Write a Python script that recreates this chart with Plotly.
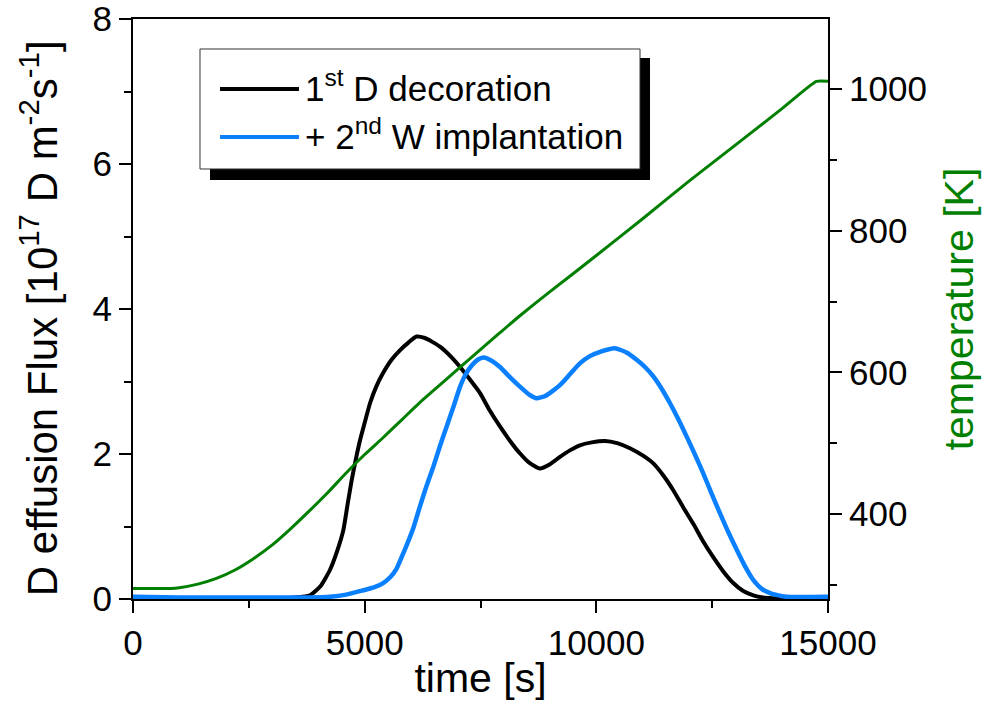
import plotly.graph_objects as go

# Thermal desorption data: time [s] and D effusion flux [1e17 D m^-2 s^-1]
t_first = [0, 1000, 2000, 3000, 3500, 3820, 4050, 4250, 4400, 4540, 4630, 4720, 4810, 4900,
           5000, 5115, 5250, 5400, 5580, 5760, 5950, 6120, 6300, 6450, 6625, 6850, 7060, 7280,
           7490, 7700, 7920, 8150, 8350, 8550, 8780, 9000, 9215, 9430, 9645, 9900, 10186, 10450,
           10725, 11000, 11230, 11450, 11660, 11870, 12090, 12300, 12520, 12740, 12955, 13170,
           13390, 13600, 13810, 14200, 15000]
flux_first = [0.02, 0.01, 0.01, 0.01, 0.02, 0.05, 0.18, 0.40, 0.65, 0.95, 1.30, 1.64, 1.93, 2.19,
              2.43, 2.70, 2.93, 3.12, 3.30, 3.43, 3.54, 3.62, 3.60, 3.55, 3.48, 3.35, 3.20, 3.02,
              2.84, 2.60, 2.38, 2.17, 2.01, 1.88, 1.80, 1.86, 1.96, 2.05, 2.12, 2.16, 2.18, 2.15,
              2.08, 1.98, 1.87, 1.70, 1.50, 1.27, 1.04, 0.80, 0.58, 0.38, 0.22, 0.11,
              0.05, 0.02, 0.01, 0.00, 0.00]

t_second = [0, 1000, 2000, 3000, 3800, 4250, 4600, 4970, 5200, 5400, 5550, 5690, 5800, 5905,
            6050, 6190, 6330, 6480, 6620, 6770, 6920, 7060, 7180, 7310, 7440, 7560, 7700, 7920,
            8150, 8350, 8550, 8710, 8900, 9215, 9430, 9645, 9860, 10080, 10400, 10650, 10870,
            11050, 11230, 11410, 11590, 11770, 11950, 12130, 12310, 12490, 12670, 12850, 13030,
            13210, 13390, 13570, 13750, 13930, 14110, 15000]
flux_second = [0.03, 0.02, 0.02, 0.02, 0.02, 0.03, 0.06, 0.12, 0.16, 0.22, 0.30, 0.42, 0.58, 0.74,
               0.98, 1.27, 1.55, 1.82, 2.10, 2.38, 2.66, 2.93, 3.10, 3.22, 3.30, 3.33, 3.30, 3.20,
               3.05, 2.93, 2.82, 2.77, 2.80, 2.95, 3.10, 3.25, 3.35, 3.41, 3.46, 3.40, 3.30,
               3.20, 3.07, 2.90, 2.70, 2.48, 2.24, 1.99, 1.73, 1.45, 1.18, 0.92, 0.68,
               0.45, 0.26, 0.14, 0.08, 0.05, 0.03, 0.03]

# Sample temperature [K]
t_temp = [0, 400, 800, 1000, 1400, 1800, 2200, 2600, 3000, 3400, 3800, 4200, 4600, 5000,
          5400, 5800, 6200, 6600, 7000, 7920, 8350, 9000, 10000, 11000, 12000, 13000, 14000,
          14750, 15000]
temp = [295, 295, 295, 296, 301, 309, 321, 337, 356, 379, 404, 430, 458, 484,
        508, 533, 558, 581, 604, 656, 680, 714, 765, 817, 870, 921, 972,
        1011, 1011]

legend_labels = ["1<sup>st</sup> D decoration", "+ 2<sup>nd</sup> W implantation"]
x_ticks = [0, 5000, 10000, 15000]
x_ticktext = ["0", "5000", "10000", "15000"]
y_ticks = [0, 2, 4, 6, 8]
temp_ticks = [400, 600, 800, 1000]

BLACK = "#000000"
BLUE = "#0A80FF"
GREEN = "#007F00"
FONT = "Liberation Sans, Arial, sans-serif"

fig = go.Figure()
fig.add_trace(go.Scatter(x=t_temp, y=temp, mode="lines", yaxis="y2",
                         line=dict(color=GREEN, width=3, shape="spline", smoothing=0.5),
                         showlegend=False))
fig.add_trace(go.Scatter(x=t_first, y=flux_first, mode="lines",
                         line=dict(color=BLACK, width=4, shape="spline", smoothing=0.5),
                         showlegend=False))
fig.add_trace(go.Scatter(x=t_second, y=flux_second, mode="lines",
                         line=dict(color=BLUE, width=4.5, shape="spline", smoothing=0.5),
                         showlegend=False))

axis_common = dict(
    showgrid=False, zeroline=False, showline=True, linecolor="black", linewidth=2,
    ticks="outside", ticklen=12, tickwidth=2, tickcolor="black", automargin=False,
    ticklabeloverflow="allow",
    tickfont=dict(family=FONT, size=35, color="black"),
)

fig.update_layout(
    width=986, height=724,
    margin=dict(l=133, r=158, t=19, b=125),
    paper_bgcolor="white", plot_bgcolor="white",
    font=dict(family=FONT, color="black"),
    xaxis=dict(
        range=[0, 15000], tickvals=x_ticks, ticktext=x_ticktext, mirror=True,
        minor=dict(dtick=2500, ticks="outside", ticklen=7, tickwidth=2, tickcolor="black"),
        title=dict(text="time [s]", font=dict(family=FONT, size=41), standoff=2),
        **axis_common,
    ),
    yaxis=dict(
        range=[0, 8], tickvals=y_ticks,
        minor=dict(dtick=1, ticks="outside", ticklen=7, tickwidth=2, tickcolor="black"),
        **axis_common,
    ),
    yaxis2=dict(
        range=[280, 1099], tickvals=temp_ticks, overlaying="y", side="right",
        minor=dict(tickvals=[300, 500, 700, 900], ticks="outside", ticklen=7,
                   tickwidth=2, tickcolor="black"),
        title=dict(text="temperature [K]", font=dict(family=FONT, size=41, color=GREEN),
                   standoff=18),
        **axis_common,
    ),
    showlegend=False,
)

# Left axis title, placed as a rotated annotation
fig.add_annotation(xref="paper", yref="paper", x=-0.135, y=0.4845,
                   text="D effusion Flux [10<sup>17</sup> D m<sup>-2</sup>s<sup>-1</sup>]",
                   textangle=-90, showarrow=False, xanchor="center", yanchor="middle",
                   font=dict(family=FONT, size=42, color="black"))

# Legend panel with drop shadow
shapes = [
    dict(type="rect", xref="paper", yref="paper", x0=0.1108, x1=0.7439, y0=0.7224, y1=0.9328,
         fillcolor="black", line=dict(width=0)),
    dict(type="rect", xref="paper", yref="paper", x0=0.0964, x1=0.7295, y0=0.7414, y1=0.9483,
         fillcolor="white", line=dict(color="#333333", width=1)),
    dict(type="line", xref="paper", yref="paper", x0=0.1252, x1=0.2388, y0=0.8793, y1=0.8793,
         line=dict(color=BLACK, width=4)),
    dict(type="line", xref="paper", yref="paper", x0=0.1252, x1=0.2388, y0=0.7966, y1=0.7966,
         line=dict(color=BLUE, width=4)),
]
fig.update_layout(shapes=shapes)

for label, ypos in zip(legend_labels, [0.8845, 0.8018]):
    fig.add_annotation(xref="paper", yref="paper", x=0.2450, y=ypos, text=label,
                       showarrow=False, xanchor="left", yanchor="middle",
                       font=dict(family=FONT, size=35, color="black"))

fig.write_html("out.html")
